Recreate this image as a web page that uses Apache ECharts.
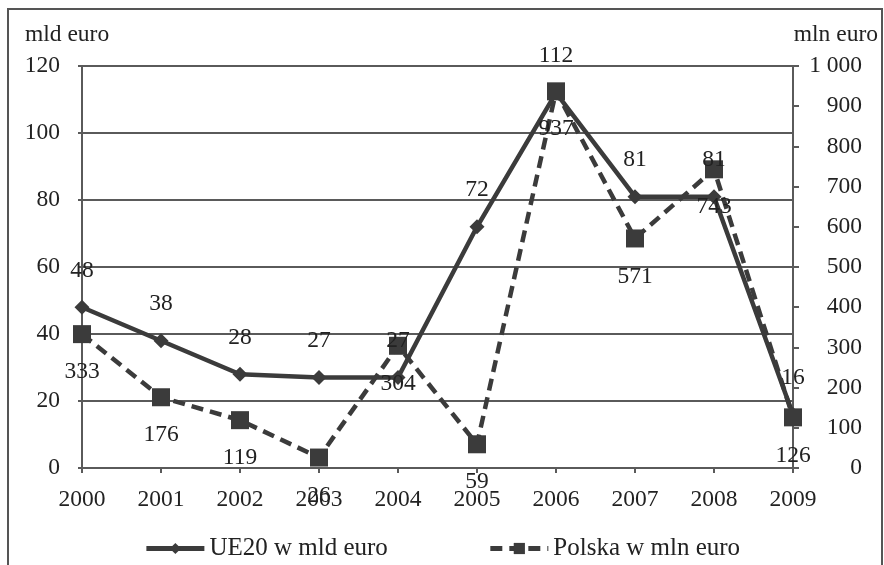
<!DOCTYPE html>
<html>
<head>
<meta charset="utf-8">
<script src="https://cdn.jsdelivr.net/npm/echarts@6/dist/echarts.min.js"></script>
<style>
  html, body { margin: 0; padding: 0; background: #fff; }
  #chart { width: 884px; height: 565px; }
</style>
</head>
<body>
<div id="chart"></div>
<script>
// Years on the category axis
const years = ['2000', '2001', '2002', '2003', '2004', '2005', '2006', '2007', '2008', '2009'];
// EU-20 values, billion euro (left axis)
const ue20 = [48, 38, 28, 27, 27, 72, 112, 81, 81, 16];
// Poland values, million euro (right axis)
const polska = [333, 176, 119, 26, 304, 59, 937, 571, 743, 126];

const seriesNames = ['UE20 w mld euro', 'Polska w mln euro'];
const axisNames = ['mld euro', 'mln euro'];

const FONT = 'Liberation Serif';
const FS = 23.5;
const INK = '#222';
const MARK = '#3b3b3b';
const RULE = '#5a5a5a';

const chart = echarts.init(document.getElementById('chart'));

chart.setOption({
  backgroundColor: '#fff',
  animation: false,
  textStyle: { fontFamily: FONT, color: INK },
  grid: { left: 82, right: 91, top: 66, bottom: 97 },
  graphic: [
    {
      type: 'rect',
      shape: { x: 8, y: 9, width: 874, height: 570 },
      style: { fill: 'none', stroke: '#555', lineWidth: 2 },
      silent: true
    },
    {
      type: 'text', left: 25, top: 23,
      style: { text: axisNames[0], font: FS + 'px "Liberation Serif"', fill: INK }
    },
    {
      type: 'text', right: 6, top: 23,
      style: { text: axisNames[1], font: FS + 'px "Liberation Serif"', fill: INK }
    }
  ],
  legend: {
    bottom: -1,
    left: 'center',
    itemWidth: 58,
    itemHeight: 14,
    itemGap: 100,
    lineStyle: { width: 5 },
    textStyle: { fontFamily: FONT, fontSize: 25, color: INK },
    data: seriesNames
  },
  xAxis: {
    type: 'category',
    data: years,
    boundaryGap: false,
    axisLine: { lineStyle: { color: RULE, width: 2 } },
    axisTick: { show: true, length: 5, inside: false, lineStyle: { color: RULE, width: 2 } },
    axisLabel: { fontFamily: FONT, fontSize: FS, color: INK, margin: 20 }
  },
  yAxis: [
    {
      type: 'value',
      min: 0, max: 120, interval: 20,
      axisLine: { show: true, lineStyle: { color: RULE, width: 2 } },
      axisTick: { show: true, length: 4, lineStyle: { color: RULE, width: 2 } },
      splitLine: { show: true, lineStyle: { color: RULE, width: 2 } },
      axisLabel: { fontFamily: FONT, fontSize: FS, color: INK, margin: 22 }
    },
    {
      type: 'value',
      position: 'right',
      min: 0, max: 1000, interval: 100,
      axisLine: { show: true, lineStyle: { color: RULE, width: 2 } },
      axisTick: { show: true, length: 6, lineStyle: { color: RULE, width: 2 } },
      splitLine: { show: false },
      axisLabel: {
        fontFamily: FONT, fontSize: FS, color: INK,
        align: 'right', margin: 69,
        formatter: v => String(v).replace(/\B(?=(\d{3})+(?!\d))/g, ' ')
      }
    }
  ],
  series: [
    {
      name: seriesNames[0],
      type: 'line',
      yAxisIndex: 0,
      data: ue20,
      symbol: 'diamond',
      symbolSize: 15,
      showAllSymbol: true,
      lineStyle: { color: MARK, width: 4.5 },
      itemStyle: { color: MARK },
      label: {
        show: true, position: 'top', distance: 17,
        fontFamily: FONT, fontSize: FS, color: INK
      }
    },
    {
      name: seriesNames[1],
      type: 'line',
      yAxisIndex: 1,
      data: polska,
      symbol: 'rect',
      symbolSize: 18,
      showAllSymbol: true,
      lineStyle: { color: MARK, width: 4.5, type: [12, 7] },
      itemStyle: { color: MARK },
      label: {
        show: true, position: 'bottom', distance: 17,
        fontFamily: FONT, fontSize: FS, color: INK
      }
    }
  ]
});
</script>
</body>
</html>
